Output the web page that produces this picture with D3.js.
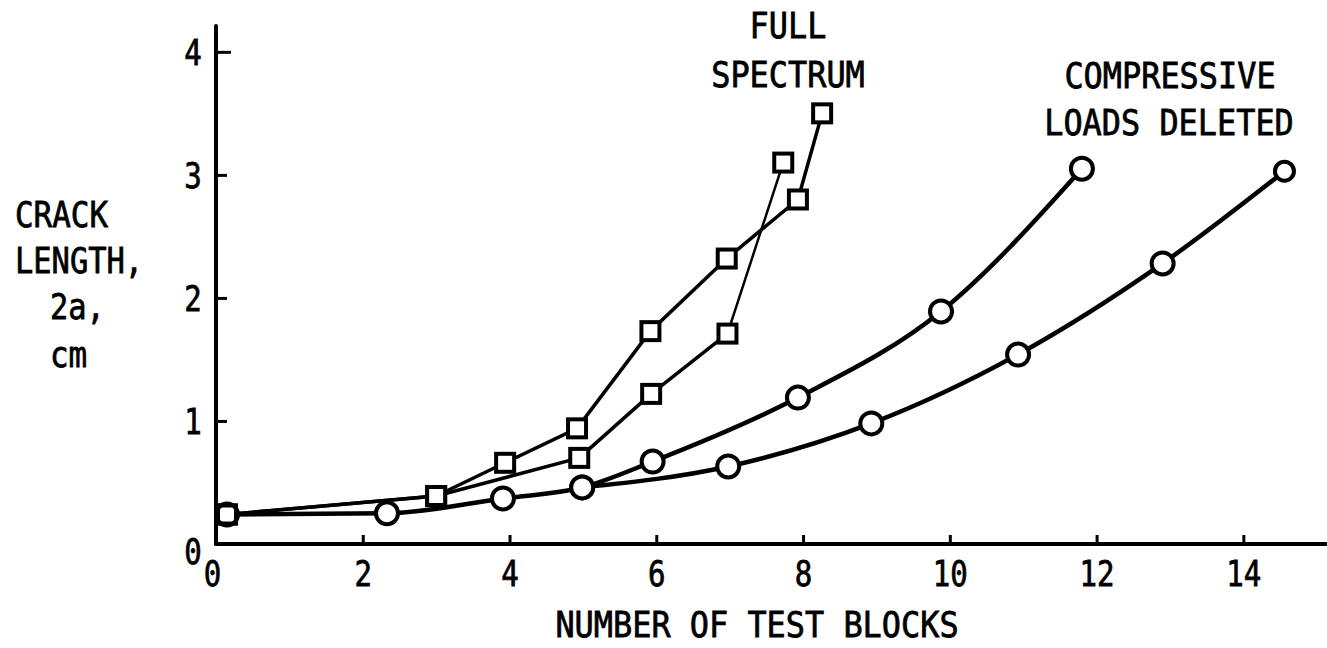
<!DOCTYPE html>
<html>
<head>
<meta charset="utf-8">
<script src="https://cdn.jsdelivr.net/npm/d3@7/dist/d3.min.js"></script>
<style>
  html, body { margin: 0; padding: 0; background: #fff; }
  svg { display: block; }
  text { font-family: "DejaVu Sans Mono", "Liberation Mono", monospace; fill: #000; stroke: #000; stroke-width: 0.8px; }
</style>
</head>
<body>
<svg id="chart" width="1327" height="648"></svg>
<script>
// ---- data ----
const xTickValues = [0, 2, 4, 6, 8, 10, 12, 14];
const yTickValues = [0, 1, 2, 3, 4];

// Full spectrum, upper square curve
const fullUpperX = [0.15, 3.00, 3.94, 4.92, 5.92, 6.96, 7.93, 8.26];
const fullUpperY = [0.24, 0.39, 0.66, 0.94, 1.73, 2.32, 2.80, 3.50];
// Full spectrum, lower square curve
const fullLowerX = [0.15, 3.00, 4.95, 5.93, 6.97, 7.73];
const fullLowerY = [0.24, 0.39, 0.70, 1.22, 1.71, 3.10];
// Compressive loads deleted, first circle curve
const compAX = [0.15, 2.33, 3.91, 4.99, 5.95, 7.93, 9.88, 11.80];
const compAY = [0.24, 0.25, 0.37, 0.46, 0.67, 1.19, 1.89, 3.05];
// Compressive loads deleted, second circle curve
const compBX = [4.99, 6.98, 8.93, 10.93, 12.90, 14.56];
const compBY = [0.46, 0.63, 0.98, 1.54, 2.28, 3.03];

const xTitle = "NUMBER OF TEST BLOCKS";
const yTitleLines = ["CRACK", "LENGTH,", "2a,", "cm"];
const fullLabel = ["FULL", "SPECTRUM"];
const compLabel = ["COMPRESSIVE", "LOADS DELETED"];

// ---- drawing ----
const svg = d3.select("#chart");
const W = 1327, H = 648;
const x = d3.scaleLinear().domain([0, 15.14]).range([216, W]);
const y = d3.scaleLinear().domain([0, 4.21]).range([544, 26]);

const CHAR_W = 19.2;      // condensed advance of the plotter lettering
const DIGIT_W = 17.5;
const FS = 36;

function lbl(g, str, px, py, anchor, cw) {
  return g.append("text")
    .attr("x", px).attr("y", py)
    .attr("text-anchor", anchor || "middle")
    .attr("font-size", FS)
    .attr("textLength", str.length * (cw || CHAR_W))
    .attr("lengthAdjust", "spacingAndGlyphs")
    .text(str);
}

// X axis
const xAxis = d3.axisBottom(x)
  .tickValues(xTickValues)
  .tickSizeInner(-9)
  .tickSizeOuter(0)
  .tickFormat(d => d);
const gx = svg.append("g").attr("transform", `translate(0,${y(0)})`).call(xAxis);
gx.select(".domain").attr("stroke", "#000").attr("stroke-width", 4)
  .attr("d", `M${x(0)},0H${W}`);
gx.selectAll(".tick line").attr("stroke", "#000").attr("stroke-width", 3)
  .attr("display", d => d === 0 ? "none" : null);
gx.selectAll(".tick text")
  .attr("y", 42).attr("dy", 0)
  .attr("dx", d => d === 0 ? -4 : 0)
  .attr("font-size", FS)
  .attr("font-family", "DejaVu Sans Mono")
  .attr("textLength", d => String(d).length * DIGIT_W)
  .attr("lengthAdjust", "spacingAndGlyphs");

// Y axis
const yAxis = d3.axisLeft(y)
  .tickValues(yTickValues)
  .tickSizeInner(-11)
  .tickSizeOuter(0)
  .tickFormat(d => d);
const gy = svg.append("g").attr("transform", `translate(${x(0)},0)`).call(yAxis);
gy.select(".domain").attr("stroke", "#000").attr("stroke-width", 4)
  .attr("d", `M0,${y(0)}V${y(4.21)}`);
gy.selectAll(".tick line").attr("stroke", "#000").attr("stroke-width", 3)
  .attr("x2", d => d === 4 ? 15 : 11)
  .attr("display", d => d === 0 ? "none" : null);
gy.selectAll(".tick text")
  .attr("x", -23).attr("dy", d => d === 0 ? "0.55em" : "0.36em")
  .attr("text-anchor", "middle")
  .attr("font-size", FS)
  .attr("font-family", "DejaVu Sans Mono")
  .attr("textLength", DIGIT_W)
  .attr("lengthAdjust", "spacingAndGlyphs");
svg.selectAll(".domain").attr("stroke-linecap", "round");

// Lines
const toPts = (xs, ys) => xs.map((v, i) => [v, ys[i]]);
const straight = d3.line().x(d => x(d[0])).y(d => y(d[1]));
const smooth = d3.line().x(d => x(d[0])).y(d => y(d[1])).curve(d3.curveMonotoneX);

const gl = svg.append("g").attr("fill", "none").attr("stroke", "#000")
  .attr("stroke-linejoin", "round").attr("stroke-linecap", "round");
const upper = toPts(fullUpperX, fullUpperY);
const lower = toPts(fullLowerX, fullLowerY);
const compA = toPts(compAX, compAY);
const compBfull = toPts(compBX, compBY);

gl.append("path").attr("d", straight(upper)).attr("stroke-width", 3.5);
gl.append("path").attr("d", straight(lower.slice(0, 5))).attr("stroke-width", 3.5);
gl.append("path").attr("d", straight(lower.slice(4))).attr("stroke-width", 2.5);
gl.append("path").attr("d", smooth(compA)).attr("stroke-width", 4.5);
gl.append("path").attr("d", smooth(compBfull)).attr("stroke-width", 4.5);

// Markers
const gm = svg.append("g");
const SQ = 18;
gm.selectAll("rect.sq")
  .data(upper.concat(lower))
  .join("rect").attr("class", "sq")
  .attr("x", d => x(d[0]) - SQ / 2).attr("y", d => y(d[1]) - SQ / 2)
  .attr("width", SQ).attr("height", SQ)
  .attr("fill", "#fff").attr("stroke", "#000").attr("stroke-width", 4);
gm.selectAll("circle.ci")
  .data(compA.concat(compBfull))
  .join("circle").attr("class", "ci")
  .attr("cx", d => x(d[0])).attr("cy", d => y(d[1]))
  .attr("r", (d, i, n) => i === n.length - 1 ? 9.5 : 11)
  .attr("fill", "#fff").attr("stroke", "#000").attr("stroke-width", 4);
// start point shows as a square drawn over the circle
gm.append("rect")
  .attr("x", x(upper[0][0]) - SQ / 2).attr("y", y(upper[0][1]) - SQ / 2)
  .attr("width", SQ).attr("height", SQ).attr("rx", 5)
  .attr("fill", "#fff").attr("stroke", "#000").attr("stroke-width", 4);

// Texts
const gt = svg.append("g");
lbl(gt, xTitle, 757, 637);
const yBase = [227, 273, 319, 367];
const yX = [15, 15, 50, 50];
yTitleLines.forEach((s, i) => lbl(gt, s, yX[i], yBase[i], "start", s.endsWith(",") ? 18.3 : 18.6));
lbl(gt, fullLabel[0], 788, 38);
lbl(gt, fullLabel[1], 788, 87);
lbl(gt, compLabel[0], 1170, 88);
lbl(gt, compLabel[1], 1169, 135);
</script>
</body>
</html>
